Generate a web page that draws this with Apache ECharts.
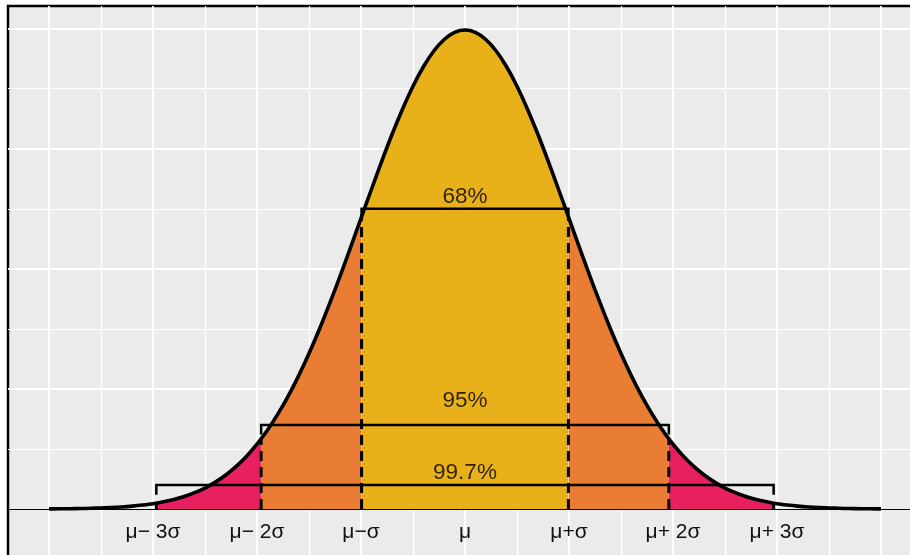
<!DOCTYPE html>
<html><head><meta charset="utf-8">
<script src="https://cdn.jsdelivr.net/npm/echarts@6/dist/echarts.min.js"></script>
<style>html,body{margin:0;padding:0;background:#fff}#c{width:910px;height:555px}</style>
</head><body><div id="c"></div>
<script>
// ---- data ----
const curveX = [-4.0,-3.9,-3.8,-3.7,-3.6,-3.5,-3.4,-3.3,-3.2,-3.1,
  -3.0,-2.9677,-2.9,-2.8,-2.7,-2.6,-2.5,-2.4,-2.3,-2.2,-2.1,
  -2.0,-1.96,-1.9,-1.8,-1.7,-1.6,-1.5,-1.4,-1.3,-1.2,-1.1,
  -1.0,-0.9945,-0.9,-0.8,-0.7,-0.6,-0.5,-0.4,-0.3,-0.2,-0.1,
  0.0,0.1,0.2,0.3,0.4,0.5,0.6,0.7,0.8,0.9,0.9945,
  1.0,1.1,1.2,1.3,1.4,1.5,1.6,1.7,1.8,1.9,1.96,
  2.0,2.1,2.2,2.3,2.4,2.5,2.6,2.7,2.8,2.9,2.9677,
  3.0,3.1,3.2,3.3,3.4,3.5,3.6,3.7,3.8,3.9,4.0];
const curveY = [0.0001,0.0002,0.0003,0.0004,0.0006,0.0009,0.0012,0.0017,0.0024,0.0033,
  0.0044,0.0049,0.0060,0.0079,0.0104,0.0136,0.0175,0.0224,0.0283,0.0355,0.0440,
  0.0540,0.0584,0.0656,0.0790,0.0940,0.1109,0.1295,0.1497,0.1714,0.1942,0.2179,
  0.2420,0.2433,0.2661,0.2897,0.3123,0.3332,0.3521,0.3683,0.3814,0.3910,0.3970,
  0.3989,0.3970,0.3910,0.3814,0.3683,0.3521,0.3332,0.3123,0.2897,0.2661,0.2433,
  0.2420,0.2179,0.1942,0.1714,0.1497,0.1295,0.1109,0.0940,0.0790,0.0656,0.0584,
  0.0540,0.0440,0.0355,0.0283,0.0224,0.0175,0.0136,0.0104,0.0079,0.0060,0.0049,
  0.0044,0.0033,0.0024,0.0017,0.0012,0.0009,0.0006,0.0004,0.0003,0.0002,0.0001];
const regionFrom = [-2.9677, -1.96, -0.9945, 0.9945, 1.96];
const regionTo   = [-1.96, -0.9945, 0.9945, 1.96, 2.9677];
const sigmaTicks  = [-3, -2, -1, 0, 1, 2, 3];
const sigmaLabels = ['μ− 3σ', 'μ− 2σ', 'μ−σ', 'μ', 'μ+σ', 'μ+ 2σ', 'μ+ 3σ'];
const dashX = [-2.9677, -1.96, -0.9945, 0.9945, 1.96, 2.9677];
const dashY = [0.0049, 0.0584, 0.2433, 0.2433, 0.0584, 0.0049];
const bracketHalf = [0.9945, 1.96, 2.9677];
const bracketY = [0.25, 0.07, 0.02];
const bracketTick = 0.008;
const pctLabels = ['68%', '95%', '99.7%'];
const pctLabelY = [0.26, 0.09, 0.03];
const majorX = [-4, -3, -2, -1, 0, 1, 2, 3, 4];
const minorX = [-3.5, -2.5, -1.5, -0.5, 0.5, 1.5, 2.5, 3.5];
const majorY = [0.1, 0.2, 0.3, 0.4];
const minorY = [0.05, 0.15, 0.25, 0.35];

// ---- layout / style ----
const X_MIN = -4.394, X_MAX = 4.375, Y_MIN = -0.0466, Y_MAX = 0.4189;
const regionColors = ['#E8205F', '#E97D33', '#E9B119', '#E97D33', '#E8205F'];
const FONT = "'Liberation Sans', Arial, sans-serif";
const SMOOTH = 0.3;

const chart = echarts.init(document.getElementById('c'), null, {renderer: 'canvas'});
const pts = curveX.map((x, i) => [x, curveY[i]]);
// outline uses the evenly spaced points only (boundary points feed the fills)
const outlinePts = pts.filter(p => Math.abs(p[0] * 10 - Math.round(p[0] * 10)) < 1e-6);

const areaSeries = regionFrom.map((f, i) => ({
  type: 'line', xAxisIndex: 0, yAxisIndex: 0,
  data: pts.filter(p => p[0] >= f - 1e-9 && p[0] <= regionTo[i] + 1e-9),
  showSymbol: false, smooth: SMOOTH, silent: true,
  lineStyle: {width: 0}, areaStyle: {color: regionColors[i], opacity: 1}, z: 2
}));

const gridAxisX = (vals, w) => ({
  type: 'value', min: X_MIN, max: X_MAX, gridIndex: 0,
  axisLine: {show: false}, axisLabel: {show: false},
  axisTick: {show: false, customValues: vals},
  splitLine: {show: true, lineStyle: {color: '#ffffff', width: w}}
});
const gridAxisY = (vals, w) => ({
  type: 'value', min: Y_MIN, max: Y_MAX, gridIndex: 0,
  axisLine: {show: false}, axisLabel: {show: false},
  axisTick: {show: false, customValues: vals},
  splitLine: {show: true, lineStyle: {color: '#ffffff', width: w}}
});

chart.setOption({
  animation: false,
  backgroundColor: '#ffffff',
  grid: {left: 8, top: 6, right: -10, bottom: -10, show: true, outerBoundsMode: 'none',
    containLabel: false,
    backgroundColor: '#EBEBEB', borderColor: '#000000', borderWidth: 2.5},
  xAxis: [
    {type: 'value', min: X_MIN, max: X_MAX, z: 10,
      axisLine: {onZero: true, lineStyle: {color: '#000000', width: 1}},
      axisTick: {show: false, customValues: sigmaTicks},
      splitLine: {show: false},
      axisLabel: {customValues: sigmaTicks, inside: true, margin: 22, fontSize: 21, color: '#111111',
        fontFamily: FONT, formatter: v => sigmaLabels[sigmaTicks.indexOf(v)]}},
    gridAxisX(majorX, 2),
    gridAxisX(minorX, 1.2)
  ],
  yAxis: [
    gridAxisY(majorY, 2),
    gridAxisY(minorY, 1.2)
  ],
  series: [
    ...areaSeries,
    {type: 'custom', xAxisIndex: 0, yAxisIndex: 0, z: 4, silent: true,
      data: dashX.map((x, i) => [x, dashY[i]]),
      renderItem: (params, api) => {
        const p0 = api.coord([api.value(0), 0]);
        const p1 = api.coord([api.value(0), api.value(1)]);
        return {type: 'line', shape: {x1: p0[0], y1: p0[1], x2: p1[0], y2: p1[1]},
          style: {stroke: '#000', lineWidth: 3, lineDash: [10, 6]}};
      }},
    {type: 'custom', xAxisIndex: 0, yAxisIndex: 0, z: 5, silent: true,
      data: bracketHalf.map((h, i) => [h, bracketY[i]]),
      renderItem: (params, api) => {
        const h = api.value(0), y = api.value(1);
        const pts2 = [[-h, y - bracketTick], [-h, y], [h, y], [h, y - bracketTick]].map(p => api.coord(p));
        return {type: 'polyline', shape: {points: pts2},
          style: {stroke: '#000', lineWidth: 2.5, fill: null}};
      }},
    {type: 'line', xAxisIndex: 0, yAxisIndex: 0, z: 6, silent: true,
      data: outlinePts, showSymbol: false, smooth: SMOOTH,
      lineStyle: {color: '#000', width: 3.6, join: 'round'}},
    {type: 'scatter', xAxisIndex: 0, yAxisIndex: 0, z: 7, silent: true,
      data: pctLabels.map((t, i) => [0, pctLabelY[i], t]),
      symbolSize: 0, itemStyle: {color: 'transparent'},
      label: {show: true, position: 'inside', formatter: p => p.value[2],
        fontSize: 22.5, color: '#000', fontFamily: FONT,
        textBorderWidth: 0, textBorderColor: 'transparent'}}
  ]
});
</script></body></html>
